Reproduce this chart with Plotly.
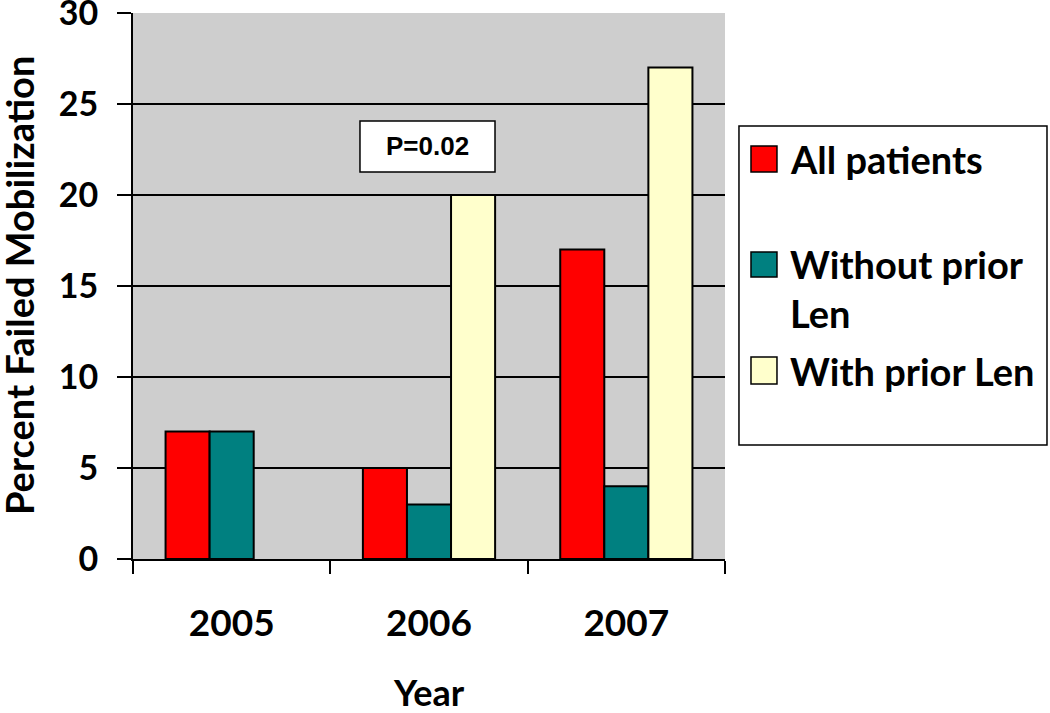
import plotly.graph_objects as go

years = ["2005", "2006", "2007"]
all_patients = [7, 5, 17]
without_prior_len = [7, 3, 4]
with_prior_len = [None, 20, 27]
y_ticks = [0, 5, 10, 15, 20, 25, 30]

series_names = ["All patients", "Without prior<br>Len", "With prior Len"]
series_colors = ["#FF0000", "#008080", "#FFFFCC"]

FONT = "Lato"

fig = go.Figure()
for name, vals, col in zip(series_names, [all_patients, without_prior_len, with_prior_len], series_colors):
    fig.add_trace(go.Bar(x=years, y=vals, name=name, showlegend=False,
                         marker=dict(color=col, line=dict(color="black", width=2))))

# hand-drawn legend (box, swatches, labels)
fig.add_shape(type="rect", xref="paper", yref="paper", x0=1.0236, x1=1.5439, y0=0.2088, y1=0.793,
              line=dict(color="black", width=1.5), fillcolor="white")
swatch_y = [(0.7088, 0.7564), (0.5165, 0.5623), (0.3205, 0.370)]
label_y = [0.7326, 0.4963, 0.3443]
for name, col, (y0, y1), ly in zip(series_names, series_colors, swatch_y, label_y):
    fig.add_shape(type="rect", xref="paper", yref="paper", x0=1.0439, x1=1.0878, y0=y0, y1=y1,
                  line=dict(color="black", width=1.5), fillcolor=col)
    fig.add_annotation(x=1.1064, y=ly, xref="paper", yref="paper", text=name, showarrow=False,
                       xanchor="left", yanchor="middle", align="left",
                       font=dict(family=FONT, size=38, color="black", weight="bold"))

# p-value box
fig.add_shape(type="rect", xref="paper", yref="y", x0=0.3834, x1=0.6115, y0=21.26, y1=24.07,
              line=dict(color="black", width=1.5), fillcolor="white")
fig.add_annotation(x=0.4975, xref="paper", y=22.69, yref="y", text="P=0.02", showarrow=False,
                   font=dict(family="Liberation Sans", size=26, color="black", weight="bold"))

# axis titles
fig.add_annotation(x=-0.1925, y=0.5, xref="paper", yref="paper", text="Percent Failed Mobilization",
                   textangle=-90, showarrow=False, xanchor="center", yanchor="middle",
                   font=dict(family=FONT, size=38, color="black", weight="bold"))
fig.add_annotation(x=0.5, y=-0.243, xref="paper", yref="paper", text="Year",
                   showarrow=False, xanchor="center", yanchor="middle",
                   font=dict(family=FONT, size=36, color="black", weight="bold"))

fig.update_layout(
    width=1050, height=713,
    margin=dict(l=133, r=325, t=13, b=154),
    paper_bgcolor="white", plot_bgcolor="#CECECE",
    barmode="group", bargap=0.33, bargroupgap=0,
    font=dict(family=FONT, color="black", weight="bold"),
    showlegend=False,
)
fig.update_xaxes(
    type="category", tickson="boundaries", ticks="outside", ticklen=13, tickwidth=2,
    tickcolor="black", showline=True, linecolor="black", linewidth=2, automargin=False,
    tickfont=dict(family=FONT, size=37, weight="bold"), ticklabelstandoff=31,
)
fig.update_yaxes(
    range=[0, 30], tickvals=y_ticks, ticks="outside", ticklen=14, tickwidth=2,
    tickcolor="black", showline=True, linecolor="black", linewidth=2,
    showgrid=True, gridcolor="black", gridwidth=2, zeroline=False, automargin=False,
    tickfont=dict(family=FONT, size=34, weight="bold"), ticklabelstandoff=12,
    ticklabeloverflow="allow",
)

fig.write_html("out.html", config={"displayModeBar": False},
               post_script="document.body.style.margin='0px';")
